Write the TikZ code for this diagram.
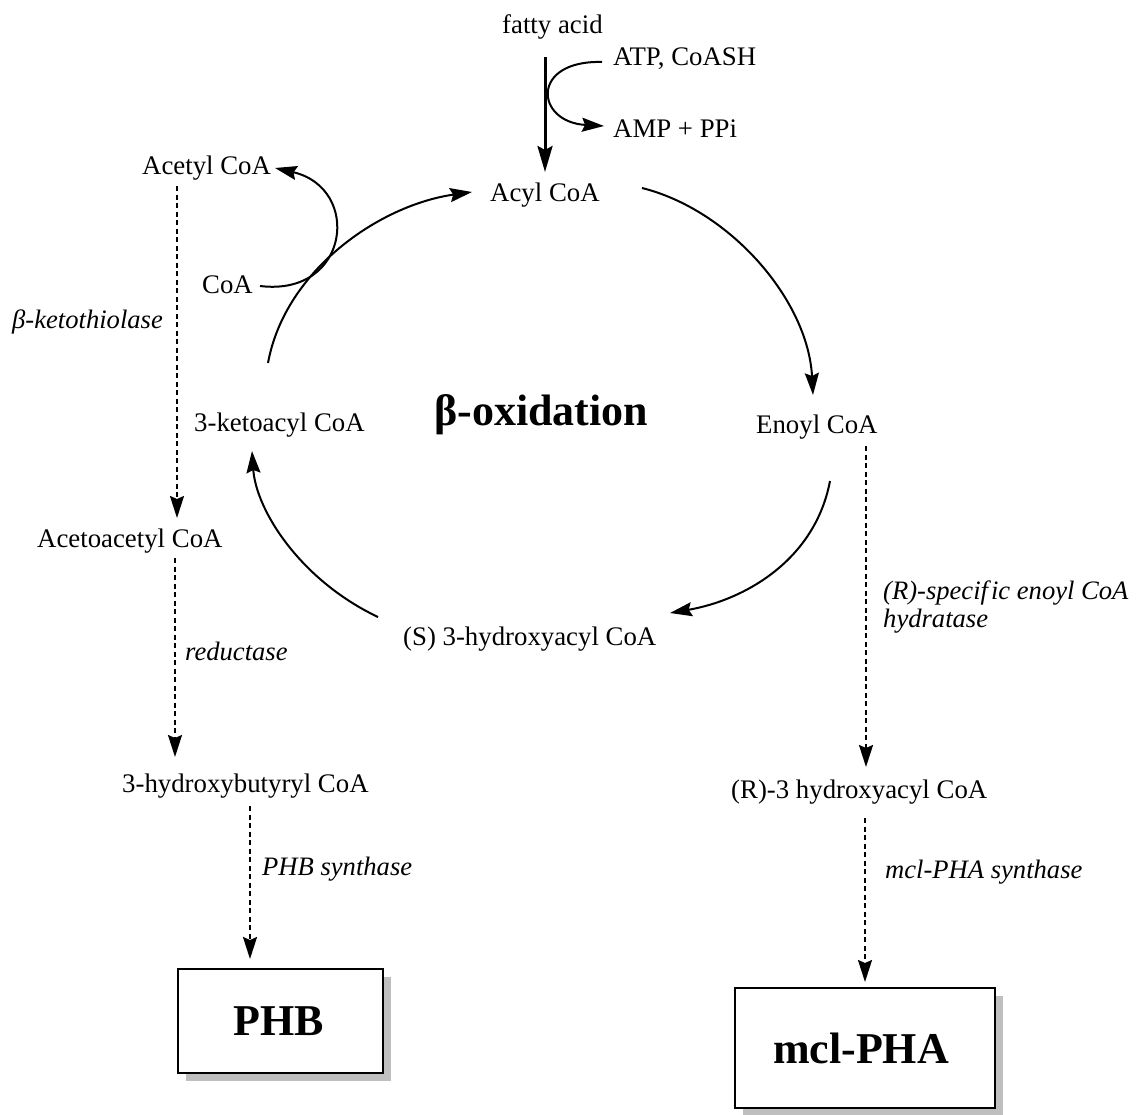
\documentclass[tikz,border=0pt]{standalone}
\usepackage{fontspec}
\setmainfont{Liberation Serif}
\usetikzlibrary{arrows.meta}
\begin{document}
\begin{tikzpicture}[x=1pt,y=-1pt,
  lbl/.style={font=\fontsize{26.8}{30}\selectfont, inner sep=0pt, anchor=base west},
  enz/.style={font=\fontsize{26.6}{30}\selectfont\itshape, inner sep=0pt, anchor=base west},
  arr/.style={line width=2pt, -{Stealth[length=22pt,width=14pt,inset=3pt]}},
  dsh/.style={arr, dash pattern=on 5pt off 3.5pt},
  bigarr/.style={line width=3pt, -{Stealth[length=26pt,width=15pt,inset=4pt]}},
  prod/.style={draw, line width=2.5pt, fill=white},
  shadow/.style={fill=black!25, draw=none},
  prodtxt/.style={font=\fontsize{44}{50}\selectfont\bfseries, inner sep=0pt}]
\useasboundingbox (0,0) rectangle (1138,1114);

% labels
\node[lbl] (fatty) at (502,33) {fatty acid};
\node[lbl] (atp) at (613,65) {ATP, CoASH};
\node[lbl] (amp) at (613,137) {AMP + PPi};
\node[lbl] (acyl) at (490,201) {Acyl CoA};
\node[lbl] (acetyl) at (142,174) {Acetyl CoA};
\node[lbl] (coa) at (202,293) {CoA};
\node[enz] (ketothiolase) at (12,328) {β-ketothiolase};
\node[lbl] (ketoacyl) at (194,431) {3-ketoacyl CoA};
\node[font=\fontsize{44}{50}\selectfont\bfseries, inner sep=0pt, anchor=base west] (betaox) at (434,425) {β-oxidation};
\node[lbl] (enoyl) at (756,433) {Enoyl CoA};
\node[lbl] (shydroxy) at (403,645) {(S) 3-hydroxyacyl CoA};
\node[enz] (rspec) at (883,599) {(R)-specif\kern3pt ic enoyl CoA};
\node[enz] (hydratase) at (883,627) {hydratase};
\node[lbl] (acetoacetyl) at (37,547) {Acetoacetyl CoA};
\node[enz] (reductase) at (185,660) {reductase};
\node[lbl] (hbutyryl) at (122,792) {3-hydroxybutyryl CoA};
\node[enz] (phbsyn) at (262,875) {PHB synthase};
\node[lbl] (rhydroxy) at (731,798) {(R)-3 hydroxyacyl CoA};
\node[enz] (mclsyn) at (885,878) {mcl-PHA synthase};

% product boxes
\fill[shadow] (186,977) rectangle (391,1081);
\draw[prod] (178,969) rectangle (383,1073);
\node[prodtxt] (phb) at (279,1021) {PHB};
\fill[shadow] (743,996) rectangle (1003,1116);
\draw[prod] (735,988) rectangle (995,1108);
\node[prodtxt] (mclpha) at (861,1048) {mcl-PHA};

% connector end points
\coordinate (faS) at (545,57);
\coordinate (faE) at (545,172);
\coordinate (atpS) at (602,62);
\coordinate (ampE) at (604,126);
\coordinate (c1S) at (642,188);
\coordinate (c1E) at (813,395);
\coordinate (c2S) at (830,481);
\coordinate (c2E) at (670,613);
\coordinate (c3S) at (378,617);
\coordinate (c3E) at (252,451);
\coordinate (c4S) at (268,363);
\coordinate (c4E) at (472,192);
\coordinate (coaS) at (260,286);
\coordinate (acetylE) at (275,168);
\coordinate (l1S) at (177,186);
\coordinate (l1E) at (177,518);
\coordinate (l2S) at (175,558);
\coordinate (l2E) at (175,757);
\coordinate (l3S) at (250,806);
\coordinate (l3E) at (250,959);
\coordinate (r1S) at (866,446);
\coordinate (r1E) at (866,767);
\coordinate (r2S) at (865,818);
\coordinate (r2E) at (865,982);

% fatty acid activation
\draw[bigarr] (faS) -- (faE);
\draw[arr] (atpS) .. controls (530,60) and (535,122) .. (ampE);

% beta-oxidation cycle
\draw[arr] (c1S) .. controls (730,210) and (808,300) .. (c1E);
\draw[arr] (c2S) .. controls (815,560) and (745,600) .. (c2E);
\draw[arr] (c3S) .. controls (300,580) and (256,510) .. (c3E);
\draw[arr] (c4S) .. controls (285,270) and (380,205) .. (c4E);
\draw[arr] (coaS) .. controls (350,297) and (362,188) .. (acetylE);

% dashed pathways
\draw[dsh] (l1S) -- (l1E);
\draw[dsh] (l2S) -- (l2E);
\draw[dsh] (l3S) -- (l3E);
\draw[dsh] (r1S) -- (r1E);
\draw[dsh] (r2S) -- (r2E);
\end{tikzpicture}
\end{document}
